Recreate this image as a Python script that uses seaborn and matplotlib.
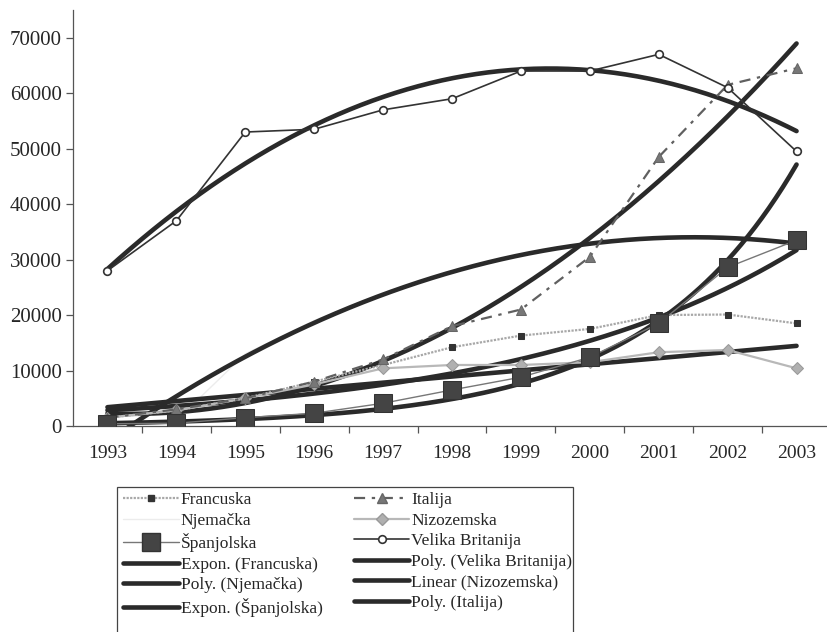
import numpy as np
import pandas as pd
import matplotlib
matplotlib.use("Agg")
import matplotlib.pyplot as plt
from matplotlib.lines import Line2D
from matplotlib.patches import Rectangle
import seaborn as sns

# ---- data ----
years = ["1993", "1994", "1995", "1996", "1997", "1998", "1999", "2000", "2001", "2002", "2003"]
francuska = [1500, 2800, 5000, 8000, 11000, 14200, 16300, 17500, 20000, 20100, 18500]
njemacka = [0, 1000, 13000, 19000, 24000, 28000, 31000, 33000, 34000, 34000, 32500]
spanjolska = [400, 500, 1500, 2300, 4100, 6500, 8800, 12400, 18500, 28600, 33500]
italija = [1500, 3000, 5000, 8000, 12000, 18000, 21000, 30500, 48500, 61500, 64500]
nizozemska = [1500, 2800, 5000, 7500, 10400, 11000, 11000, 11500, 13300, 13700, 10400]
velika_britanija = [28000, 37000, 53000, 53500, 57000, 59000, 64000, 64000, 67000, 61000, 49500]
y_ticks = [0, 10000, 20000, 30000, 40000, 50000, 60000, 70000]

sns.set_theme(style="white")
plt.rcParams["font.family"] = ["Liberation Serif", "DejaVu Serif"]

fig = plt.figure(figsize=(8.28, 6.32), dpi=100)
ax = fig.add_axes([73 / 828, 206 / 632, 758 / 828, 416 / 632])

x = np.arange(len(years))
xf = np.linspace(0, len(years) - 1, 300)

TREND = "#2a2a2a"
TLW = 3.3


def poly_fit(vals):
    c = np.polyfit(x, vals, 2)
    return np.polyval(c, xf)


def expon_fit(vals):
    c = np.polyfit(x, np.log(vals), 1)
    return np.exp(np.polyval(c, xf))


def linear_fit(vals):
    c = np.polyfit(x, vals, 1)
    return np.polyval(c, xf)


styles = {
    "Njemačka": dict(color="#ececec", lw=1.0, marker=None),
    "Francuska": dict(color="#a8a8a8", lw=1.6, ls=(0, (1, 0.6)), marker="s", ms=5,
                      mfc="#333333", mec="#333333"),
    "Nizozemska": dict(color="#b8b8b8", lw=1.6, marker="D", ms=6, mfc="#b0b0b0", mec="#999999"),
    "Italija": dict(color="#606060", lw=1.6, ls=(0, (5, 3, 1.5, 3)), marker="^", ms=7,
                    mfc="#777777", mec="#666666"),
    "Španjolska": dict(color="#777777", lw=1.0, marker="s", ms=13, mfc="#444444", mec="#333333"),
    "Velika Britanija": dict(color="#333333", lw=1.2, marker="o", ms=5.5, mfc="white",
                             mec="#333333", mew=1.2),
}
series = {
    "Francuska": francuska,
    "Njemačka": njemacka,
    "Španjolska": spanjolska,
    "Italija": italija,
    "Nizozemska": nizozemska,
    "Velika Britanija": velika_britanija,
}

# faint Njemačka series below the trend lines
sns.lineplot(data=pd.DataFrame({"x": x, "y": njemacka}), x="x", y="y", ax=ax,
             legend=False, zorder=2, **styles["Njemačka"])

trends = [
    ("Expon. (Francuska)", expon_fit(francuska)),
    ("Poly. (Njemačka)", poly_fit(njemacka)),
    ("Expon. (Španjolska)", expon_fit(spanjolska)),
    ("Poly. (Velika Britanija)", poly_fit(velika_britanija)),
    ("Linear (Nizozemska)", linear_fit(nizozemska)),
    ("Poly. (Italija)", poly_fit(italija)),
]
for name, yv in trends:
    sns.lineplot(x=xf, y=yv, ax=ax, color=TREND, lw=TLW, zorder=3, legend=False)

for name in ["Francuska", "Nizozemska", "Italija", "Španjolska", "Velika Britanija"]:
    df = pd.DataFrame({"x": x, "y": series[name]})
    sns.lineplot(data=df, x="x", y="y", ax=ax, legend=False, zorder=4, **styles[name])

ax.set_xlim(-0.5, 10.5)
ax.set_ylim(0, 75000)
ax.set_yticks(y_ticks)
ax.set_yticklabels([str(v) for v in y_ticks], fontsize=15)
ax.set_xticks(x)
ax.set_xticklabels(years, fontsize=14)
ax.set_xticks(np.arange(0.5, 10.5, 1.0), minor=True)
ax.tick_params(axis="x", which="major", length=0, pad=14)
ax.tick_params(axis="x", which="minor", length=5, width=0.9, color="#555555", direction="out", bottom=True)
ax.tick_params(axis="y", length=5, width=0.9, color="#555555", direction="out", left=True, pad=3)
ax.set_xlabel("")
ax.set_ylabel("")
for s in ["top", "right"]:
    ax.spines[s].set_visible(False)
for s in ["left", "bottom"]:
    ax.spines[s].set_color("#555555")
    ax.spines[s].set_linewidth(0.9)
ax.grid(False)


def handle(name):
    return Line2D([], [], **styles[name])


left_col = [("Francuska", handle("Francuska")),
            ("Njemačka", handle("Njemačka")),
            ("Španjolska", handle("Španjolska")),
            ("Expon. (Francuska)", Line2D([], [], color=TREND, lw=TLW)),
            ("Poly. (Njemačka)", Line2D([], [], color=TREND, lw=TLW)),
            ("Expon. (Španjolska)", Line2D([], [], color=TREND, lw=TLW))]
right_col = [("Italija", handle("Italija")),
             ("Nizozemska", handle("Nizozemska")),
             ("Velika Britanija", handle("Velika Britanija")),
             ("Poly. (Velika Britanija)", Line2D([], [], color=TREND, lw=TLW)),
             ("Linear (Nizozemska)", Line2D([], [], color=TREND, lw=TLW)),
             ("Poly. (Italija)", Line2D([], [], color=TREND, lw=TLW))]
items = left_col + right_col
leg = fig.legend([h for _, h in items], [l for l, _ in items], ncol=2,
                 loc="upper left", bbox_to_anchor=(119 / 828, 1 - 488 / 632),
                 frameon=False, fontsize=12.5,
                 handlelength=3.2, handletextpad=0.1, labelspacing=0.25,
                 columnspacing=1.8, borderpad=0.25, borderaxespad=0)

# legend frame running off the bottom edge, as in the scan
fig.add_artist(Rectangle((117 / 828, -0.05), (573 - 117) / 828, 1 - 487 / 632 + 0.05,
                         transform=fig.transFigure, fill=False, edgecolor="#444444", lw=0.9))

fig.savefig("out.png", dpi=100, facecolor="white")
